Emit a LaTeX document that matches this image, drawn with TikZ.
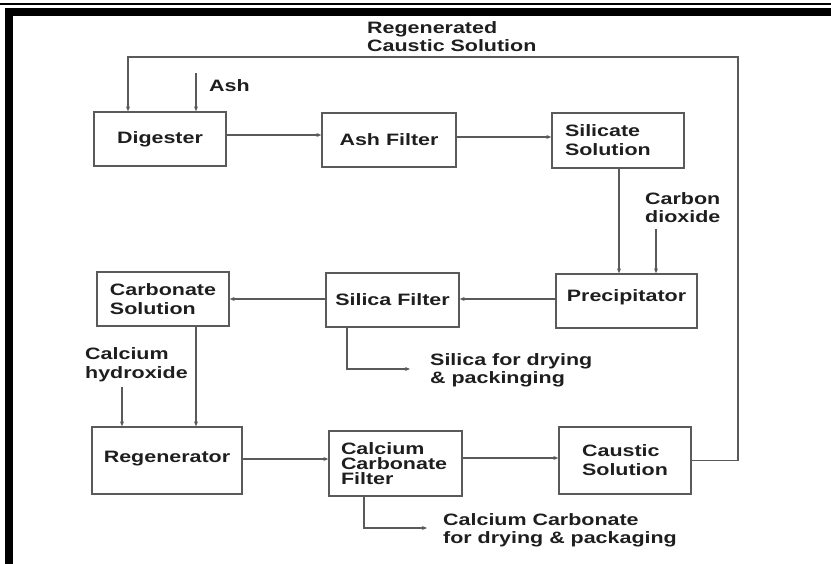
\documentclass[tikz,border=0pt]{standalone}
\usepackage{fontspec}
\setmainfont{Liberation Sans}[FakeStretch=1.3]
\usetikzlibrary{arrows.meta}
\definecolor{lncol}{HTML}{5A5A5A}
\definecolor{txcol}{HTML}{1E1E1E}
\tikzset{
  box/.style={draw=lncol, line width=1.3pt, rectangle, inner sep=0pt,
    font=\fontsize{16.5}{19}\selectfont\bfseries, text=txcol},
  lbl/.style={font=\fontsize{16.5}{18.5}\selectfont\bfseries, text=txcol, inner sep=0pt, align=left},
  arr/.style={draw=lncol, line width=1.1pt, -{Stealth[length=5pt,width=4pt]}},
}
\begin{document}
\begin{tikzpicture}[x=1pt,y=-1pt]
\useasboundingbox (0,0) rectangle (831,564);
% frame
\fill[black] (0,3) rectangle (831,5);
\fill[black] (5,8) rectangle (831,16);
\fill[black] (5,8) rectangle (13,564);
% boxes
\node[box, minimum width=132pt, minimum height=54pt] (dig) at (160,139) {Digester};
\node[box, minimum width=134pt, minimum height=54pt] (ashf) at (389,140) {Ash Filter};
\node[box, minimum width=132pt, minimum height=55pt, text width=106pt, inner xsep=13pt, align=left] (sil) at (618,140.5) {Silicate\\Solution};
\node[box, minimum width=141pt, minimum height=54pt, text height=28pt, text depth=26pt] (prec) at (626.5,301) {Precipitator};
\node[box, minimum width=133pt, minimum height=54pt] (silf) at (392.5,300) {Silica Filter};
\node[box, minimum width=132pt, minimum height=54pt, align=left, font=\fontsize{16.5}{18.3}\selectfont\bfseries] (carb) at (163,299) {Carbonate\\Solution};
\node[box, minimum width=150pt, minimum height=67pt, text height=35pt, text depth=32pt] (regen) at (167,460.5) {Regenerator};
\node[box, minimum width=133pt, minimum height=65pt, text width=109pt, inner xsep=12pt, align=left, font=\fontsize{16.5}{15.2}\selectfont\bfseries] (caf) at (395.5,463.5) {Calcium\\Carbonate\\Filter};
\node[box, minimum width=132pt, minimum height=67pt, align=left] (caus) at (625,460.5) {Caustic\\Solution};
% labels
\node[lbl, anchor=base west] (ashlbl) at (209,91.5) {Ash};
\node[lbl, anchor=west] (regenlbl) at (367,36.5) {Regenerated\\Caustic Solution};
\node[lbl, anchor=west] (co2lbl) at (645,207.5) {Carbon\\dioxide};
\node[lbl, anchor=west] (silicalbl) at (430,370.5) {Silica for drying\\\& packinging};
\node[lbl, anchor=west] (caohlbl) at (85,364.5) {Calcium\\hydroxide};
\node[lbl, anchor=west] (caflbl) at (443,530.5) {Calcium Carbonate\\for drying \& packaging};
% free ends
\coordinate (loopR) at (738,57);
\coordinate (loopL) at (128,57);
\coordinate (ashin) at (196,73);
\coordinate (co2in) at (656,229);
\coordinate (caohin) at (122,387);
\coordinate (silout) at (410,369);
\coordinate (cafout) at (427,528);
% connectors
\draw[arr] (caus.east) -| (loopR) -- (loopL) -- (loopL |- dig.north);
\draw[arr] (ashin) -- (ashin |- dig.north);
\draw[arr] ([yshift=4pt]dig.east) -- ([yshift=4pt]dig.east -| ashf.west);
\draw[arr] ([yshift=3pt]ashf.east) -- ([yshift=3pt]ashf.east -| sil.west);
\draw[arr] ([xshift=1pt]sil.south) -- ([xshift=1pt]sil.south |- prec.north);
\draw[arr] (co2in) -- (co2in |- prec.north);
\draw[arr] ([yshift=2pt]prec.west) -- ([yshift=2pt]prec.west -| silf.east);
\draw[arr] ([yshift=1pt]silf.west) -- ([yshift=1pt]silf.west -| carb.east);
\draw[arr] ([xshift=-45.5pt]silf.south) |- (silout);
\draw[arr] ([xshift=33pt]carb.south) -- ([xshift=33pt]carb.south |- regen.north);
\draw[arr] (caohin) -- (caohin |- regen.north);
\draw[arr] ([yshift=1.5pt]regen.east) -- ([yshift=1.5pt]regen.east -| caf.west);
\draw[arr] ([yshift=5.5pt]caf.east) -- ([yshift=5.5pt]caf.east -| caus.west);
\draw[arr] ([xshift=-31.5pt]caf.south) |- (cafout);
\end{tikzpicture}
\end{document}
